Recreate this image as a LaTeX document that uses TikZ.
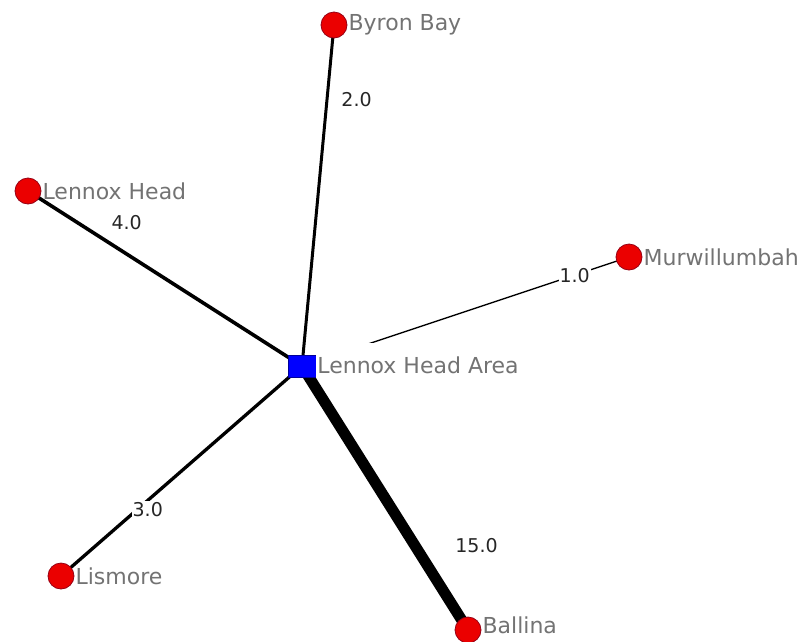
\documentclass[tikz,border=0pt]{standalone}
\usepackage{fontspec}
\setmainfont{DejaVu Sans}
\usetikzlibrary{backgrounds}
\definecolor{TownRed}{RGB}{235,0,0}
\definecolor{TownRim}{RGB}{150,0,20}
\definecolor{HubBlue}{RGB}{0,0,255}
\definecolor{LabelGrey}{RGB}{115,115,115}

\begin{document}
\begin{tikzpicture}[
        x=1pt, y=-1pt,
        town/.style={
            circle,
            draw=TownRim,
            fill=TownRed,
            line width=0.8pt,
            minimum size=26pt,
            inner sep=0pt,
            label distance=4pt
        },
        hub/.style={
            rectangle,
            draw=HubBlue!60!black,
            fill=HubBlue,
            minimum width=28pt,
            minimum height=22pt,
            inner sep=0pt,
            label distance=2pt
        },
        townlabel/.style={
            font=\fontsize{22}{24}\selectfont,
            text=LabelGrey,
            inner sep=1pt
        },
        link/.style={
            draw=black,
            line cap=butt
        },
        weight/.style={
            font=\fontsize{19}{21}\selectfont,
            text=black!85,
            inner sep=1pt
        }
    ]
    \useasboundingbox (0,0) rectangle (807,641);

    % Hub
    \node[hub, label={[townlabel, fill=white, text height=30pt, text depth=3pt, yshift=6pt]right:Lennox Head Area}] (hub) at (302,366) {};

    % Towns
    \node[town, label={[townlabel]right:Byron Bay}] (byron) at (334,25) {};
    \node[town, label={[townlabel]right:Lennox Head}] (lennox) at (28,191) {};
    \node[town, label={[townlabel]right:Murwillumbah}] (murw) at (629,257) {};
    \node[town, label={[townlabel]right:Lismore}] (lismore) at (61,576) {};
    \node[town, label={[townlabel, yshift=5pt]right:Ballina}] (ballina) at (468,630) {};

    % Weighted links
    \begin{scope}[on background layer]
    \draw[link, line width=3pt] (hub.center) -- node[weight, pos=0.78, anchor=west, xshift=12pt] {2.0} (byron.center);
    \draw[link, line width=3.6pt] (hub.center) -- node[weight, pos=0.64, yshift=31pt] {4.0} (lennox.center);
    \draw[link, line width=1.3pt] (hub.center) -- node[weight, pos=0.834, fill=white] {1.0} (murw.center);
    \draw[link, line width=3.3pt] (hub.center) -- node[weight, pos=0.64, yshift=-9pt, fill=white] {3.0} (lismore.center);
    \draw[link, line width=11pt] (hub.center) -- node[weight, pos=0.68, anchor=west, xshift=34pt] {15.0} (ballina.center);
    \end{scope}

\end{tikzpicture}
\end{document}
